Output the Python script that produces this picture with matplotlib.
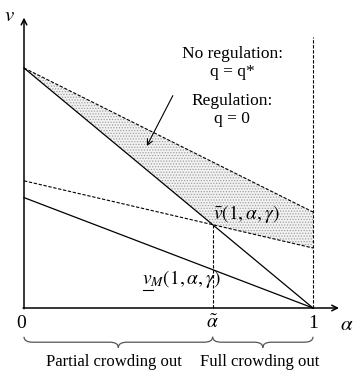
import numpy as np
import matplotlib.pyplot as plt
from matplotlib.path import Path
from matplotlib.patches import PathPatch

plt.rcParams['font.family'] = ['Liberation Serif', 'DejaVu Serif']
plt.rcParams['mathtext.fontset'] = 'stix'
plt.rcParams['hatch.color'] = '#a0a0a0'
plt.rcParams['hatch.linewidth'] = 0.6

# values at alpha = 0 and alpha = 1 for each line
alpha_ends = [0.0, 1.0]
v_no_reg = [1.0, 0.40]      # upper dashed line
v_bar = [1.0, 0.0]          # steep solid line
v_reg = [0.53, 0.25]        # lower dashed line
v_m = [0.46, 0.0]           # lower solid line
tick_labels = ['0', r'$\tilde{\alpha}$', '1']
region_labels = ['Partial crowding out', 'Full crowding out']

# crossing point alpha tilde of v_bar and v_reg
s_bar = v_bar[1] - v_bar[0]
s_reg = v_reg[1] - v_reg[0]
a_tilde = (v_reg[0] - v_bar[0]) / (s_bar - s_reg)
v_tilde = v_reg[0] + s_reg * a_tilde

fig = plt.figure(figsize=(3.55, 3.72), dpi=100)
ax = fig.add_axes([0, 0, 1, 1])
ax.set_xlim(-24 / 289, 331 / 289)
ax.set_ylim(-64 / 240, 308 / 240)
ax.axis('off')

a = np.linspace(0, 1, 200)
upper = np.interp(a, alpha_ends, v_no_reg)
lower = np.maximum(np.interp(a, alpha_ends, v_bar), np.interp(a, alpha_ends, v_reg))
ax.fill_between(a, lower, upper, facecolor='#f2f2f2', hatch='......', edgecolor='none', lw=0)

ax.plot(alpha_ends, v_no_reg, color='black', lw=0.8, ls=(0, (3, 1.5)))
ax.plot(alpha_ends, v_reg, color='black', lw=0.8, ls=(0, (3, 1.5)))
ax.plot(alpha_ends, v_bar, color='black', lw=0.9)
ax.plot(alpha_ends, v_m, color='black', lw=0.9)

# vertical guides
ax.plot([1, 1], [0, 1.13], color='black', lw=0.8, ls=(0, (3, 1.5)))
ax.plot([a_tilde, a_tilde], [0, v_tilde], color='black', lw=0.8, ls=(0, (3, 1.5)))

# axes with arrow heads
ax.annotate('', xy=(0, 1.21), xytext=(0, -0.003),
            arrowprops=dict(arrowstyle='->', lw=1.1, color='black', shrinkA=0, shrinkB=0))
ax.annotate('', xy=(1.09, 0), xytext=(-0.003, 0),
            arrowprops=dict(arrowstyle='->', lw=1.1, color='black', shrinkA=0, shrinkB=0))
ax.text(-0.05, 1.215, r'$v$', fontsize=15, ha='center', va='center')
ax.text(1.115, -0.075, r'$\alpha$', fontsize=15, ha='center', va='center')

for x, lab in zip([-0.01, a_tilde, 1.0], tick_labels):
    ax.text(x, -0.065, lab, fontsize=14, ha='center', va='center')

# annotations
ax.text(0.72, 1.02, 'No regulation:\nq = q*', fontsize=12.5, ha='center', va='center',
        linespacing=1.2)
ax.text(0.72, 0.825, 'Regulation:\nq = 0', fontsize=12.5, ha='center', va='center',
        linespacing=1.2)
ax.annotate('', xy=(0.425, 0.675), xytext=(0.515, 0.885),
            arrowprops=dict(arrowstyle='->', lw=0.8, color='black', shrinkA=0, shrinkB=0))
ax.text(0.77, 0.39, r'$\bar{v}(1,\alpha,\gamma)$', fontsize=14, ha='center', va='center')
ax.text(0.41, 0.12, r'$v_M(1,\alpha,\gamma)$', fontsize=14, ha='left', va='center')
ax.plot([0.412, 0.445], [0.075, 0.075], color='black', lw=0.8)


def brace(x0, x1, y, h):
    # horizontal curly brace opening upward, tip pointing down
    xm = (x0 + x1) / 2
    q = min(0.03, (x1 - x0) / 8)
    verts = [(x0, y), (x0, y - h / 2), (x0 + q, y - h / 2),
             (xm - q, y - h / 2), (xm, y - h / 2), (xm, y - h),
             (xm, y - h / 2), (xm + q, y - h / 2),
             (x1 - q, y - h / 2), (x1, y - h / 2), (x1, y)]
    codes = [Path.MOVETO, Path.CURVE3, Path.CURVE3,
             Path.LINETO, Path.CURVE3, Path.CURVE3,
             Path.CURVE3, Path.CURVE3,
             Path.LINETO, Path.CURVE3, Path.CURVE3]
    ax.add_patch(PathPatch(Path(verts, codes), fill=False, lw=0.9, color='#555555'))


brace(0.0, a_tilde, -0.12, 0.045)
brace(a_tilde, 1.0, -0.12, 0.045)
ax.text(a_tilde / 2 - 0.015, -0.225, region_labels[0], fontsize=12, ha='center', va='center')
ax.text((a_tilde + 1) / 2 - 0.01, -0.225, region_labels[1], fontsize=12, ha='center', va='center')

fig.savefig('out.png', dpi=100)
